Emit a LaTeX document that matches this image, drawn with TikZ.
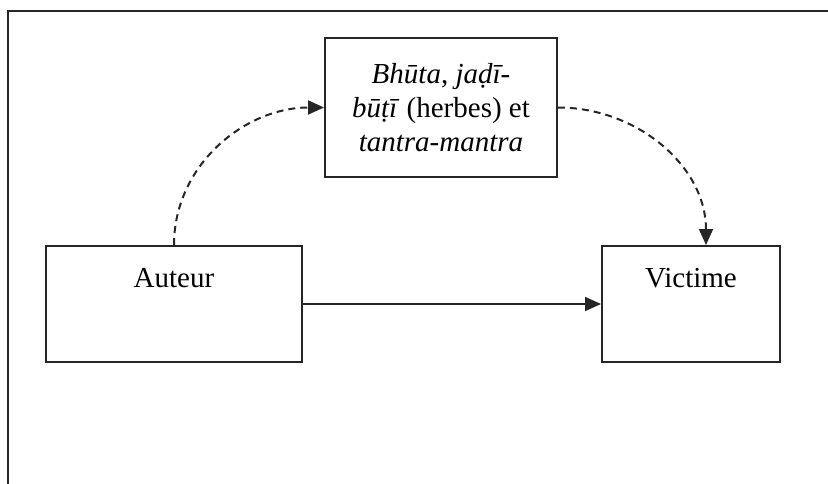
\documentclass[tikz,border=0pt]{standalone}
\usepackage{fontspec}
\setmainfont{Liberation Serif}
\usetikzlibrary{arrows.meta,calc}

\tikzset{
  frameline/.style={draw=black!85, line width=2.2pt},
  blockbox/.style={draw=black!85, line width=2pt, inner sep=0pt,
    font=\fontsize{29}{34}\selectfont},
  labelbox/.style={blockbox, text height=41pt, text depth=75pt},
  link/.style={draw=black!85, line width=2pt,
    -{Triangle[length=16pt,width=14pt]}},
  dashlink/.style={link, dash pattern=on 7pt off 5pt}
}

\begin{document}
\begin{tikzpicture}[x=1pt,y=-1pt]
  \useasboundingbox (0,0) rectangle (828,484);

  % open frame: top and left sides only
  \coordinate (ftl) at (8,11);
  \coordinate (ftr) at (828,11);
  \coordinate (fbl) at (8,484);
  \draw[frameline] (ftr) -- (ftl) -- (fbl);

  % blocks
  \node[blockbox, minimum width=232pt, minimum height=139pt, align=center]
    (means) at (441,107.5)
    {\textit{Bhūta}, \textit{jaḍī-}\\
     \textit{būṭī} (herbes) et\\
     \textit{tantra-mantra}};
  \node[labelbox, minimum width=256pt] (auteur) at (174,304) {Auteur};
  \node[labelbox, minimum width=178pt] (victime) at (691,304) {Victime};

  \coordinate (vtop) at ($(victime.north)+(15,0)$);

  % connectors
  \draw[link] (auteur.east) -- (victime.west);
  \draw[dashlink] (auteur.north) to[out=90,in=180] (means.west);
  \draw[dashlink] (means.east) to[out=0,in=90] (vtop);
\end{tikzpicture}
\end{document}
